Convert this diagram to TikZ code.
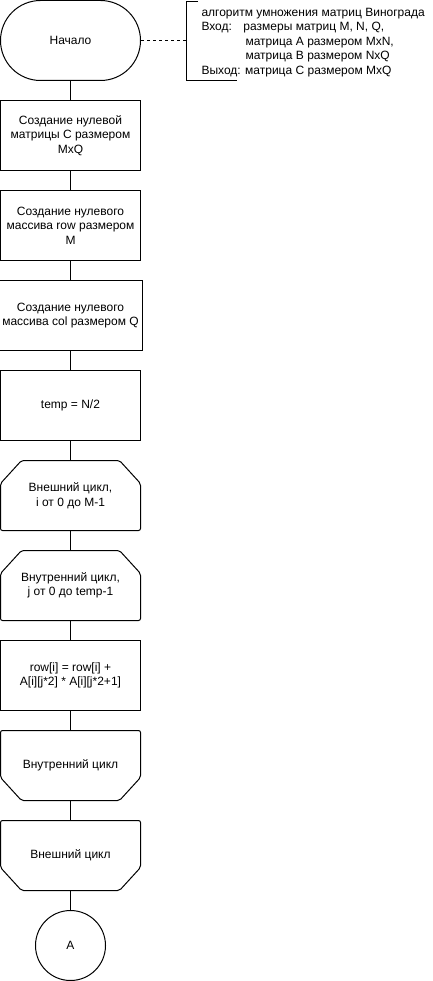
\documentclass[tikz,border=0pt]{standalone}
\usepackage{fontspec}
\setmainfont{Liberation Sans}
\usetikzlibrary{positioning}
\tikzstyle{startstop} = [rectangle, rounded corners=40pt, minimum width=140pt, minimum height=80pt, text centered, draw=black]
\tikzstyle{process} = [rectangle, minimum width=140pt, minimum height=70pt, align=center, draw=black]
\tikzstyle{loopbox} = [rectangle, minimum width=140pt, minimum height=70pt, align=center, outer sep=0pt]
\tikzstyle{connector} = [circle, minimum size=70pt, inner sep=0pt, draw=black]
\tikzstyle{line} = [draw=black]
% loop limit frames, cut corners on top or bottom
\newcommand{\loopbeginframe}[1]{\draw[rounded corners=2pt] (#1.south west) -- ([yshift=-23pt]#1.north west) -- ([xshift=21pt]#1.north west) -- ([xshift=-21pt]#1.north east) -- ([yshift=-23pt]#1.north east) -- (#1.south east) -- cycle;}
\newcommand{\loopendframe}[1]{\draw[rounded corners=2pt] (#1.north west) -- ([yshift=23pt]#1.south west) -- ([xshift=21pt]#1.south west) -- ([xshift=-21pt]#1.south east) -- ([yshift=23pt]#1.south east) -- (#1.north east) -- cycle;}

\begin{document}
\begin{tikzpicture}[x=1pt, y=1pt, node distance=90pt, line width=1pt, font=\fontsize{12}{14.5}\selectfont]

		\useasboundingbox (0,0) rectangle (433,-981);

		\node (start) [startstop] at (70.5,-40.5) {Начало};
		\node (zeroc) [process, below of=start, yshift=-5pt] {Создание нулевой\\матрицы C размером\\MxQ};
		\node (zerorow) [process, below of=zeroc] {Создание нулевого\\массива row размером\\M};
		\node (zerocol) [process, below of=zerorow] {Создание нулевого\\массива col размером Q};
		\node (half) [process, below of=zerocol] {temp = N/2};
		\node (outer) [loopbox, below of=half] {Внешний цикл,\\i от 0 до M-1};
		\node (inner) [loopbox, below of=outer] {Внутренний цикл,\\j от 0 до temp-1};
		\node (sum) [process, below of=inner] {row[i] = row[i] +\\A[i][j*2] * A[i][j*2+1]};
		\node (innerend) [loopbox, below of=sum] {Внутренний цикл};
		\node (outerend) [loopbox, below of=innerend] {Внешний цикл};
		\node (a) [connector, below of=outerend] {A};

		\loopbeginframe{outer}
		\loopbeginframe{inner}
		\loopendframe{innerend}
		\loopendframe{outerend}

		% comment
		\coordinate (note) at (186.5,-40.5);
		\draw (198,-1.5) -- (186.5,-1.5) -- (186.5,-80.5) -- (237,-80.5);
		\node (notetext) [anchor=north west, align=left, inner sep=0pt] at (201,-7.5) {%
			алгоритм умножения матриц Винограда\\
			\makebox[42pt][l]{Вход:}размеры матриц M, N, Q,\\
			\hspace*{44pt}матрица A размером MxN,\\
			\hspace*{44pt}матрица B размером NxQ\\
			Выход: матрица C размером MxQ};

		\draw [line] (start) -- (zeroc);
		\draw [line] (zeroc) -- (zerorow);
		\draw [line] (zerorow) -- (zerocol);
		\draw [line] (zerocol) -- (half);
		\draw [line] (half) -- (outer);
		\draw [line] (outer) -- (inner);
		\draw [line] (inner) -- (sum);
		\draw [line] (sum) -- (innerend);
		\draw [line] (innerend) -- (outerend);
		\draw [line] (outerend) -- (a);
		\draw [line, dashed] (start.east) -- (note);

	\end{tikzpicture}
\end{document}
